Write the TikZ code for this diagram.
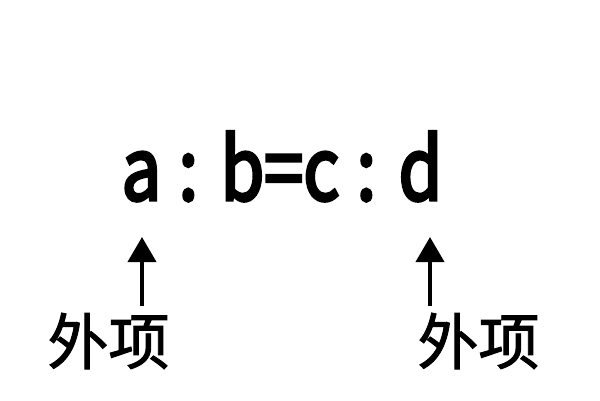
\documentclass[tikz,border=0pt]{standalone}
\usepackage{fontspec}
\setmainfont{Noto Sans CJK SC}
\newfontfamily\eqfont{Noto Sans CJK SC}[FakeBold=4]
\newfontfamily\lblfont{Noto Sans CJK SC}[FakeBold=1.5]
\usetikzlibrary{arrows.meta}
\begin{document}
\begin{tikzpicture}[x=1pt,y=-1pt,
  lbl/.style={inner sep=0pt,font=\fontsize{61}{61}\lblfont},
  arr/.style={line width=4pt,-{Triangle[length=25pt,width=28pt]}}]
\useasboundingbox (0,0) rectangle (600,400);
\node[inner sep=0pt,anchor=base,font=\fontsize{86}{86}\eqfont] (eq) at (282,200) {\scalebox{0.82}[1]{\spaceskip=21pt a : b=c : d}};
\node[lbl] (l1) at (108.5,341) {外项};
\node[lbl] (l2) at (478.5,341) {外项};
\coordinate (t1) at (142,237);
\coordinate (t2) at (430,237);
\coordinate (s1) at (142,306);
\coordinate (s2) at (430,306);
\draw[arr] (s1) -- (t1);
\draw[arr] (s2) -- (t2);
\end{tikzpicture}
\end{document}
